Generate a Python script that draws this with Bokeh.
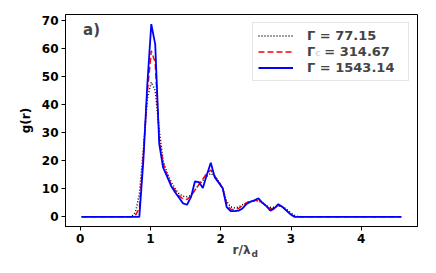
from bokeh.plotting import figure
from bokeh.models import Label, Legend, LegendItem, Range1d, FixedTicker
from bokeh.embed import file_html
from bokeh.resources import INLINE

r = [0.02, 0.728, 0.785, 0.841, 0.898, 0.954, 1.011, 1.067, 1.124, 1.180,
     1.237, 1.293, 1.350, 1.406, 1.463, 1.519, 1.576, 1.632, 1.689, 1.745,
     1.802, 1.858, 1.915, 1.971, 2.028, 2.084, 2.141, 2.197, 2.254, 2.310,
     2.367, 2.423, 2.480, 2.536, 2.593, 2.649, 2.706, 2.762, 2.819, 2.875,
     2.932, 2.988, 3.045, 3.101, 3.158, 4.57]

g_77 = [0, 0, 1.5, 8, 24, 42, 48, 45, 31, 20,
        15.5, 12.5, 10, 8.2, 7.3, 7.2, 7.6, 9.5, 11.5, 13,
        14.5, 15.5, 14.5, 12.5, 10, 5.5, 3.5, 3.2, 3.5, 4.3,
        5.0, 5.4, 5.6, 5.6, 5.0, 4.0, 3.4, 3.4, 3.8, 3.6,
        2.8, 1.6, 0.6, 0, 0, 0]

g_314 = [0, 0, 0.5, 3, 22, 44, 59.2, 55, 28, 19,
         15, 11.5, 9.5, 7.5, 6.4, 6.2, 7.5, 9.5, 11.5, 13.5,
         15.5, 16.7, 14.5, 12.6, 10, 4.5, 2.7, 2.5, 3.0, 4.0,
         5.0, 5.6, 5.8, 5.9, 5.0, 3.8, 2.8, 3.2, 4.2, 3.6,
         2.3, 1.0, 0.2, 0, 0, 0]

g_1543 = [0, 0, 0, 0, 20, 47, 68.7, 61.5, 26, 17.5,
          14.3, 11.0, 8.8, 6.8, 4.8, 4.3, 7.0, 12.6, 12.4, 10.3,
          15.0, 19.3, 14.0, 12.2, 10.2, 3.5, 2.0, 2.0, 2.2, 3.0,
          4.6, 5.4, 5.9, 6.6, 5.0, 3.8, 2.2, 3.0, 4.5, 3.6,
          2.3, 1.0, 0, 0, 0, 0]

x_ticks = [0, 1, 2, 3, 4]
y_ticks = [0, 10, 20, 30, 40, 50, 60, 70]
labels = ["Γ = 77.15", "Γ  = 314.67", "Γ = 1543.14"]

FONT = "DejaVu Sans"

p = figure(width=436, height=273, output_backend="svg", toolbar_location=None,
           x_range=Range1d(-0.21, 4.80), y_range=Range1d(-3.45, 72.14),
           min_border_left=65, min_border_right=19, min_border_top=14,
           min_border_bottom=47)
p.grid.visible = False
p.outline_line_color = "black"
p.outline_line_alpha = 1.0
p.outline_line_width = 1

for ax, t in ((p.xaxis, x_ticks), (p.yaxis, y_ticks)):
    ax.ticker = FixedTicker(ticks=t)
    ax.minor_tick_line_color = None
    ax.major_tick_in = 0
    ax.major_tick_out = 4
    ax.major_label_text_font = FONT
    ax.major_label_text_font_style = "bold"
    ax.major_label_text_font_size = "12px"
    ax.major_label_text_color = "black"
    ax.axis_line_color = "black"
    ax.major_tick_line_color = "black"
    ax.major_label_standoff = 3

p.yaxis.axis_label = "g(r)"
p.yaxis.axis_label_text_font = FONT
p.yaxis.axis_label_text_font_style = "bold"
p.yaxis.axis_label_text_font_size = "12px"
p.yaxis.axis_label_text_color = "black"
p.yaxis.axis_label_standoff = 6

l1 = p.line(r, g_77, line_color="black", line_dash="1 2", line_width=1.5)
l2 = p.line(r, g_314, line_color="red", line_dash="6 3", line_width=1.5)
l3 = p.line(r, g_1543, line_color="blue", line_width=1.8)

legend = Legend(items=[LegendItem(label=labels[0], renderers=[l1]),
                       LegendItem(label=labels[1], renderers=[l2]),
                       LegendItem(label=labels[2], renderers=[l3])],
                location="top_right", margin=8, padding=5, spacing=1,
                glyph_width=35, glyph_height=13, label_height=13,
                label_standoff=14, label_width=96,
                label_text_font=FONT, label_text_font_style="bold",
                label_text_font_size="13px",
                border_line_color="#cccccc", background_fill_alpha=0.8)
p.add_layout(legend)

p.add_layout(Label(x=3.34, y=58.5, text="c", text_font=FONT, text_font_style="bold",
                   text_font_size="9px", text_baseline="alphabetic"))

p.add_layout(Label(x=0.04, y=66.6, text="a)", text_font=FONT, text_font_style="bold",
                   text_font_size="15px", text_baseline="middle"))

p.add_layout(Label(x=185, y=10, x_units="screen", y_units="screen", text="r/λ",
                   text_font=FONT, text_font_style="bold",
                   text_font_size="12px", text_align="right", text_baseline="alphabetic"),
             "below")
p.add_layout(Label(x=186, y=16, x_units="screen", y_units="screen", text="d",
                   text_font=FONT, text_font_style="bold",
                   text_font_size="9px", text_align="left", text_baseline="alphabetic"),
             "below")

open("out.html", "w").write(file_html(p, INLINE))
